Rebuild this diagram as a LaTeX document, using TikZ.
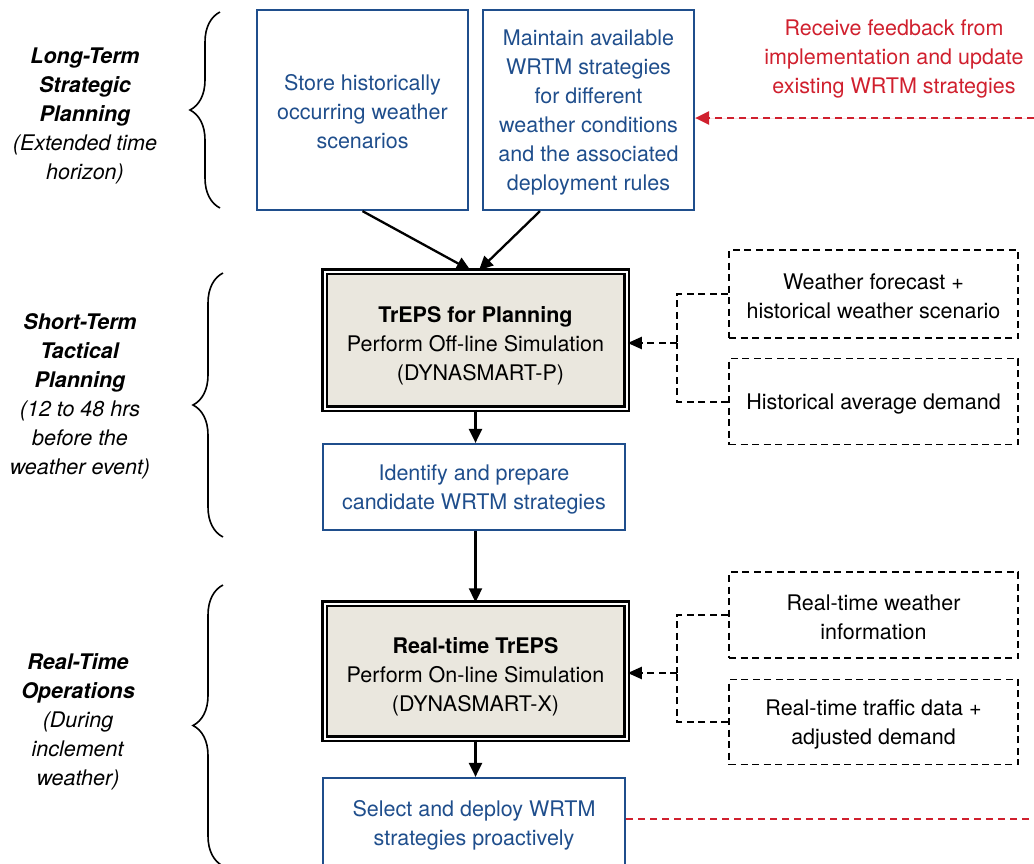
\documentclass[tikz,border=0pt]{standalone}
\usepackage{fontspec}
\setmainfont{TeX Gyre Heros}
\usetikzlibrary{arrows.meta,decorations.pathreplacing}
\definecolor{cBlue}{HTML}{1F4E8C}
\definecolor{cRed}{HTML}{D0202E}
\definecolor{cBeige}{HTML}{EAE7DE}
\begin{document}
\begin{tikzpicture}[x=1pt,y=-1pt,
  txt/.style={font=\fontsize{21.5}{29}\selectfont, align=center, inner sep=0pt},
  bluenode/.style={txt, draw=cBlue, line width=2.2pt, text=cBlue},
  dblnode/.style={txt, draw=black, line width=2.5pt, double=white, double distance=2pt, fill=cBeige},
  dashnode/.style={txt, draw=black, line width=1.9pt, dash pattern=on 7pt off 4.5pt},
  lbl/.style={txt, text=black},
  arr/.style={line width=2.3pt, -{Triangle[length=14pt,width=13pt]}},
  dasharr/.style={line width=2pt, dash pattern=on 7pt off 4.5pt},
  dtip/.style={-{Triangle[length=14pt,width=12pt]}},
  redarr/.style={draw=cRed, line width=2.4pt, dash pattern=on 7pt off 5pt},
  bracestyle/.style={line width=1.6pt, decorate, decoration={brace, amplitude=30pt}}
]
\useasboundingbox (0,0) rectangle (1034,863);
% left labels
\node[lbl] (l1) at (85,116) {\textbf{\textit{Long-Term}}\\\textbf{\textit{Strategic}}\\\textbf{\textit{Planning}}\\\textit{(Extended time}\\\textit{horizon)}};
\node[lbl] (l2) at (80,396) {\textbf{\textit{Short-Term}}\\\textbf{\textit{Tactical}}\\\textbf{\textit{Planning}}\\\textit{(12 to 48 hrs}\\\textit{before the}\\\textit{weather event)}};
\node[lbl] (l3) at (78,722) {\textbf{\textit{Real-Time}}\\\textbf{\textit{Operations}}\\\textit{(During}\\\textit{inclement}\\\textit{weather)}};
% braces
\coordinate (b1a) at (220,208); \coordinate (b1b) at (220,12);
\coordinate (b2a) at (223,537); \coordinate (b2b) at (223,273);
\coordinate (b3a) at (223,866); \coordinate (b3b) at (223,585);
\draw[bracestyle] (b1a) -- (b1b);
\draw[bracestyle] (b2a) -- (b2b);
\draw[bracestyle] (b3a) -- (b3b);
% top boxes
\node[bluenode, minimum width=211pt, minimum height=200pt] (store) at (362.5,110) {\rule{0pt}{20pt}Store historically\\occurring weather\\scenarios};
\node[bluenode, minimum width=211pt, minimum height=200pt] (maint) at (588.5,110) {\rule{0pt}{21pt}Maintain available\\WRTM strategies\\for different\\weather conditions\\and the associated\\deployment rules};
\node[txt, text=cRed] (fb) at (894,59) {Receive feedback from\\implementation and update\\existing WRTM strategies};
% planning
\node[dblnode, minimum width=302pt, minimum height=137pt] (plan) at (475.5,340) {\rule{0pt}{28pt}\textbf{TrEPS for Planning}\\Perform Off-line Simulation\\\hspace*{10pt}(DYNASMART-P)};
\node[bluenode, minimum width=302pt, minimum height=86pt] (ident) at (474,487) {\rule{0pt}{21pt}Identify and prepare\\candidate WRTM strategies};
\node[dashnode, minimum width=289pt, minimum height=88pt] (wf) at (873.5,294) {\rule{0pt}{21pt}Weather forecast +\\historical weather scenario};
\node[dashnode, minimum width=289pt, minimum height=86pt] (had) at (873.5,401.5) {\rule{0pt}{21pt}Historical average demand};
% real time
\node[dblnode, minimum width=302pt, minimum height=135pt] (rt) at (475.5,671) {\rule{0pt}{27pt}\textbf{Real-time TrEPS}\\Perform On-line Simulation\\(DYNASMART-X)};
\node[bluenode, minimum width=302pt, minimum height=90pt] (sel) at (474,823) {\rule{0pt}{20pt}Select and deploy WRTM\\strategies proactively};
\node[dashnode, minimum width=289pt, minimum height=86pt] (rtw) at (873.5,615) {\rule{0pt}{21pt}Real-time weather\\information};
\node[dashnode, minimum width=289pt, minimum height=85pt] (rtt) at (873.5,722) {\rule{0pt}{20pt}Real-time traffic data +\\adjusted demand};
% solid arrows
\draw[arr] (store.south) -- ([xshift=-5pt]plan.north);
\draw[arr] ([xshift=-48.5pt]maint.south) -- ([xshift=3.5pt]plan.north);
\draw[arr] (plan.south) -- (ident.north -| plan.south);
\draw[arr] (ident.south -| plan.south) -- (rt.north);
\draw[arr] (rt.south) -- (sel.north -| rt.south);
% dashed feeders
\coordinate (j1) at (677,343);
\draw[dasharr] (wf.west) -| (j1);
\draw[dasharr] (had.west) -| (j1);
\draw[dasharr, dtip] (j1) -- (plan.east |- j1);
\coordinate (j2) at (677,673);
\draw[dasharr] (rtw.west) -| (j2);
\draw[dasharr] (rtt.west) -| (j2);
\draw[dasharr, dtip] (j2) -- (rt.east |- j2);
% red feedback
\coordinate (r1) at (1034,118);
\draw[redarr, -{Triangle[length=14pt,width=13pt]}, fill=cRed] (r1) -- (maint.east |- r1);
\coordinate (r2) at (1034,819);
\draw[redarr] (sel.east |- r2) -- (r2);
\end{tikzpicture}
\end{document}
